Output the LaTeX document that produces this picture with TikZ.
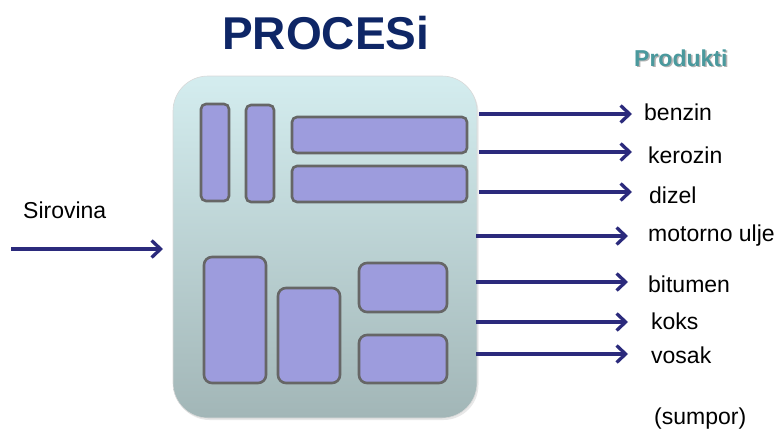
\documentclass[tikz,border=0pt]{standalone}
\usepackage{fontspec}
\setmainfont{Liberation Sans}
\usetikzlibrary{arrows.meta,shadows}
\definecolor{navy}{HTML}{0E2666}
\definecolor{arrowc}{HTML}{2B2A7C}
\definecolor{boxfill}{HTML}{9D9CDD}
\definecolor{boxline}{HTML}{666666}
\definecolor{toptone}{HTML}{D4EDEF}
\definecolor{bottone}{HTML}{A2B6B7}
\definecolor{teal}{HTML}{4A999D}
\tikzset{
  unit/.style={draw=boxline, fill=boxfill, line width=2.6pt, inner sep=0pt, rounded corners=5pt},
  bigunit/.style={unit, rounded corners=8pt},
  arr/.style={draw=arrowc, line width=3.3pt, -{Straight Barb[length=9pt,width=17pt,line width=3.3pt]}},
  lab/.style={anchor=base west, inner sep=0pt, font=\fontsize{23}{27}\selectfont},
}
\begin{document}
\begin{tikzpicture}[x=1pt,y=-1pt]
\useasboundingbox (0,0) rectangle (782,431);
% title
\node[anchor=base west, inner sep=0pt, text=navy, font=\fontsize{46}{50}\selectfont\bfseries] (title) at (222,49) {PROCESi};
% Produkti with shadow
\node[anchor=base west, inner sep=0pt, text=black!30, font=\fontsize{23}{27}\selectfont\bfseries] (prodshadow) at (635.5,67.5) {Produkti};
\node[anchor=base west, inner sep=0pt, text=teal, font=\fontsize{23}{27}\selectfont\bfseries] (prod) at (634,66) {Produkti};
% main process box
\node[rounded corners=35pt, top color=toptone, bottom color=bottone, draw=white!85!black, line width=0.6pt,
      minimum width=304pt, minimum height=342pt, inner sep=0pt,
      drop shadow={opacity=0.18, shadow xshift=1.5pt, shadow yshift=-2pt}] (proc) at (325,247) {};
% inner units
\node[unit, minimum width=28pt, minimum height=97pt] (u1) at (215,152.5) {};
\node[unit, minimum width=28pt, minimum height=97pt] (u2) at (260,153.5) {};
\node[unit, minimum width=175pt, minimum height=36pt] (u3) at (379.5,135) {};
\node[unit, minimum width=175pt, minimum height=36pt] (u4) at (379.5,184) {};
\node[bigunit, minimum width=62pt, minimum height=126pt] (u5) at (235,320) {};
\node[bigunit, minimum width=62pt, minimum height=95pt] (u6) at (309,335.5) {};
\node[bigunit, minimum width=88pt, minimum height=49pt] (u7) at (403,287.5) {};
\node[bigunit, minimum width=88pt, minimum height=48pt] (u8) at (403,359) {};
% input
\node[lab] (sir) at (23,218) {Sirovina};
\coordinate (in0) at (11,249);
\coordinate (in1) at (163,249);
\draw[arr] (in0) -- (in1);
% outputs
\node[lab] (l1) at (644,120) {benzin};
\node[lab] (l2) at (648,163) {kerozin};
\node[lab] (l3) at (649,203) {dizel};
\node[lab] (l4) at (648,241) {motorno ulje};
\node[lab] (l5) at (648,292) {bitumen};
\node[lab] (l6) at (651,329) {koks};
\node[lab] (l7) at (651,363) {vosak};
\node[lab] (l8) at (654,424) {(sumpor)};
\coordinate (s1) at (479,114); \coordinate (e1) at (632,114);
\coordinate (s2) at (479,152); \coordinate (e2) at (632,152);
\coordinate (s3) at (479,192); \coordinate (e3) at (632,192);
\coordinate (s4) at (476,236); \coordinate (e4) at (628,236);
\coordinate (s5) at (476,282); \coordinate (e5) at (628,282);
\coordinate (s6) at (476,322); \coordinate (e6) at (628,322);
\coordinate (s7) at (476,354); \coordinate (e7) at (628,354);
\foreach \i in {1,...,7} { \draw[arr] (s\i) -- (e\i); }
\end{tikzpicture}
\end{document}
